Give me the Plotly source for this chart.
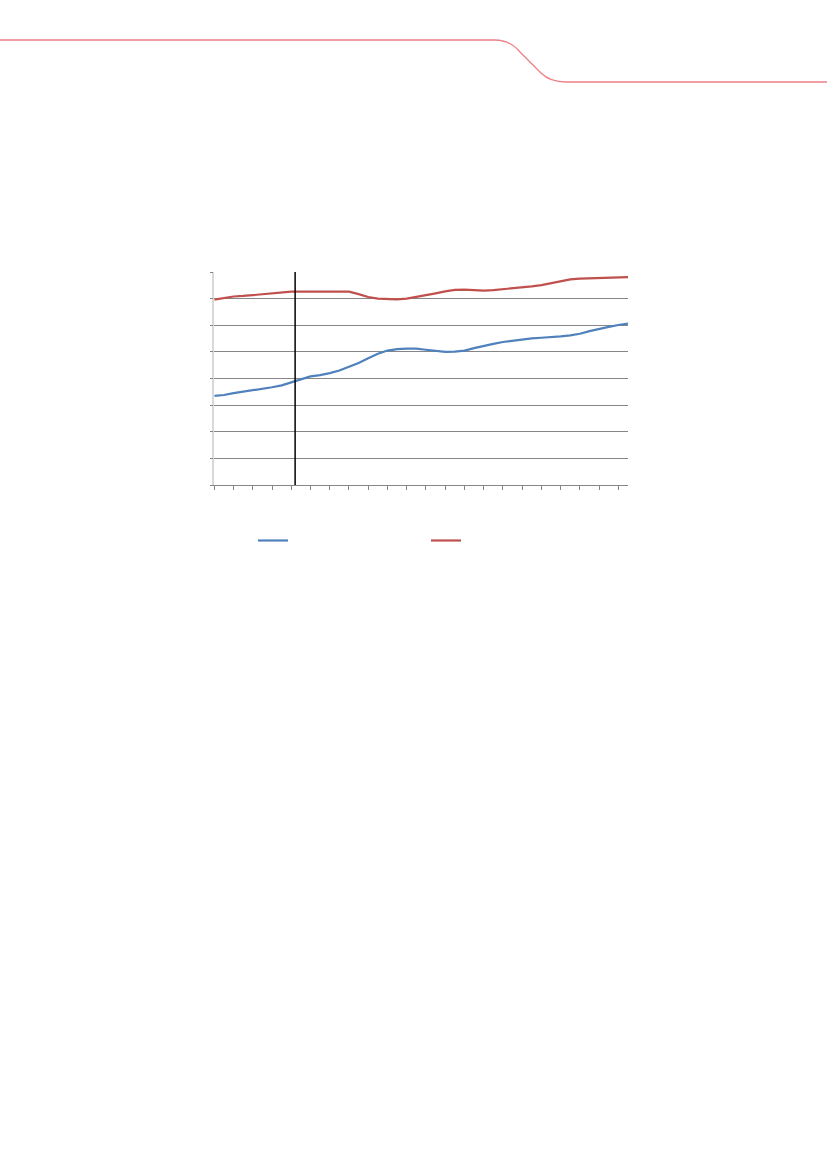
import plotly.graph_objects as go

# data (x = period index, y = value on an 0-8 grid)
periods = list(range(0, 87, 2))
blue_vals = [3.35, 3.38, 3.45, 3.50, 3.57, 3.62, 3.67, 3.74, 3.86, 3.97,
             4.08, 4.13, 4.20, 4.30, 4.43, 4.58, 4.76, 4.93, 5.05, 5.10,
             5.12, 5.12, 5.08, 5.03, 5.00, 5.01, 5.05, 5.14, 5.23, 5.30,
             5.37, 5.42, 5.46, 5.51, 5.53, 5.55, 5.58, 5.62, 5.68, 5.78,
             5.87, 5.94, 6.01, 6.06]
red_vals = [6.96, 7.02, 7.08, 7.10, 7.13, 7.16, 7.18, 7.22, 7.26, 7.26,
            7.26, 7.26, 7.26, 7.26, 7.26, 7.17, 7.06, 7.00, 6.98, 6.97,
            7.00, 7.06, 7.12, 7.20, 7.27, 7.33, 7.34, 7.33, 7.30, 7.32,
            7.35, 7.38, 7.42, 7.46, 7.51, 7.58, 7.66, 7.72, 7.75, 7.76,
            7.76, 7.78, 7.80, 7.81]
x_ticks = list(range(0, 85, 4))
marker_x = 16.8

W, H = 827, 1170

fig = go.Figure()
fig.add_trace(go.Scatter(x=periods, y=blue_vals, mode="lines", name=" ",
                         line=dict(color="#4F81BD", width=2.2)))
fig.add_trace(go.Scatter(x=periods, y=red_vals, mode="lines", name=" ",
                         line=dict(color="#C0504D", width=2.2)))

# vertical marker line
fig.add_shape(type="line", xref="x", yref="y", x0=marker_x, x1=marker_x, y0=0, y1=8,
              line=dict(color="black", width=1.5))

# red page header line
def px(x, y):
    return f"{x / W:.5f},{1 - y / H:.5f}"

header = ("M " + px(0, 40) + " L " + px(495, 40) + " Q " + px(510, 40) + " " + px(520, 52)
          + " L " + px(541, 73) + " Q " + px(550, 82) + " " + px(566, 82) + " L " + px(827, 82))
fig.add_shape(type="path", xref="paper", yref="paper", path=header,
              line=dict(color="#EE7F85", width=1.3))

fig.update_layout(
    width=W, height=H,
    margin=dict(l=0, r=0, t=0, b=0),
    paper_bgcolor="white", plot_bgcolor="white",
    showlegend=True,
    legend=dict(orientation="h", x=253 / W, y=1 - 526 / H, xanchor="left", yanchor="top",
                entrywidth=128, entrywidthmode="pixels", itemwidth=30,
                font=dict(size=10), bgcolor="rgba(0,0,0,0)"),
    xaxis=dict(domain=[214.3 / W, 628 / W], range=[0, 86], tickvals=x_ticks,
               showticklabels=False, ticks="outside", ticklen=4, tickcolor="#868686",
               showgrid=False, zeroline=False, showline=True, linecolor="#868686",
               linewidth=1),
    yaxis=dict(domain=[1 - 485 / H, 1 - 272 / H], range=[0, 8], dtick=1,
               showticklabels=False, ticks="outside", ticklen=3, tickcolor="#868686",
               showgrid=True, gridcolor="#868686", gridwidth=1, zeroline=False,
               showline=True, linecolor="#D9D9D9", linewidth=1.5),
)

# drop the browser's default page margin so the figure sits at the window origin
fig.write_html("out.html", config={"displayModeBar": False},
               post_script="document.body.style.margin='0';")
